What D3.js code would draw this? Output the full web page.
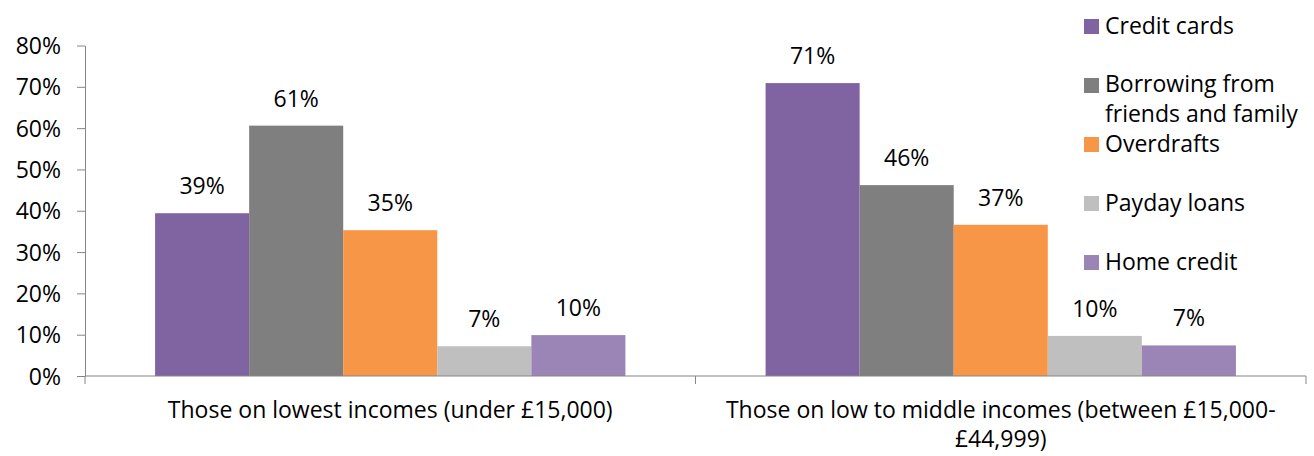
<!DOCTYPE html>
<html>
<head>
<meta charset="utf-8">
<script src="https://cdn.jsdelivr.net/npm/d3@7"></script>
<style>
  body { margin: 0; background: #fff; }
  text { font-family: "Open Sans", sans-serif; fill: #000; }
</style>
</head>
<body>
<script>
// chart data
var categories = ["Those on lowest incomes (under £15,000)",
                  "Those on low to middle incomes (between £15,000-£44,999)"];
var series = ["Credit cards", "Borrowing from friends and family", "Overdrafts", "Payday loans", "Home credit"];
var lowestIncomes = [39.4, 60.6, 35.3, 7.2, 9.9];
var lowMiddleIncomes = [70.9, 46.2, 36.6, 9.7, 7.4];
var yTicks = [0, 10, 20, 30, 40, 50, 60, 70, 80];
var colors = ["#8064A2", "#7F7F7F", "#F79646", "#BFBFBF", "#9B85B7"];

var width = 1314,
    height = 456,
    margin = {top: 45.5, right: 8, bottom: 80, left: 85};

var fontSize = 23;

var svg = d3.select("body").append("svg")
    .attr("width", width)
    .attr("height", height);

var x0 = d3.scaleBand()
    .domain(categories)
    .range([margin.left, width - margin.right])
    .paddingInner(0)
    .paddingOuter(0);

var x1 = d3.scaleBand()
    .domain(series)
    .range([0, x0.bandwidth()])
    .paddingInner(0)
    .paddingOuter(0.745);

var y = d3.scaleLinear()
    .domain([0, 80])
    .range([height - margin.bottom, margin.top]);

var color = d3.scaleOrdinal().domain(series).range(colors);

var rows = categories.map(function(c, i) {
  var vals = i === 0 ? lowestIncomes : lowMiddleIncomes;
  return {category: c, values: series.map(function(s, j) { return {series: s, value: vals[j]}; })};
});

// bars
var groups = svg.selectAll("g.group")
    .data(rows)
  .enter().append("g")
    .attr("class", "group")
    .attr("transform", function(d) { return "translate(" + x0(d.category) + ",0)"; });

groups.selectAll("rect")
    .data(function(d) { return d.values; })
  .enter().append("rect")
    .attr("x", function(d) { return x1(d.series); })
    .attr("width", x1.bandwidth())
    .attr("y", function(d) { return y(d.value); })
    .attr("height", function(d) { return y(0) - y(d.value); })
    .attr("fill", function(d) { return color(d.series); });

groups.selectAll("text.value")
    .data(function(d) { return d.values; })
  .enter().append("text")
    .attr("class", "value")
    .attr("x", function(d) { return x1(d.series) + x1.bandwidth() / 2; })
    .attr("y", function(d) { return y(d.value) - 19; })
    .attr("text-anchor", "middle")
    .style("font-size", fontSize + "px")
    .text(function(d) { return d3.format(".0f")(d.value) + "%"; });

// y axis
var yAxis = svg.append("g")
    .attr("transform", "translate(" + margin.left + ",0)")
    .call(d3.axisLeft(y)
      .tickValues(yTicks)
      .tickFormat(function(d) { return d + "%"; })
      .tickSize(8)
      .tickSizeOuter(0)
      .tickPadding(16));

yAxis.selectAll("text").style("font-size", fontSize + "px").attr("dy", "0.35em");
yAxis.selectAll("line, path").attr("stroke", "#868686");

// x axis line + boundary ticks
svg.append("line")
    .attr("x1", x0.range()[0])
    .attr("x2", x0.range()[1])
    .attr("y1", y(0))
    .attr("y2", y(0))
    .attr("stroke", "#868686");

var bounds = [x0.range()[0]].concat(categories.map(function(c) { return x0(c) + x0.bandwidth(); }));
svg.selectAll("line.xtick")
    .data(bounds)
  .enter().append("line")
    .attr("class", "xtick")
    .attr("x1", function(d) { return d; })
    .attr("x2", function(d) { return d; })
    .attr("y1", y(0))
    .attr("y2", y(0) + 8)
    .attr("stroke", "#868686");

// category labels, wrapped to the band width
var catLabels = svg.selectAll("text.cat")
    .data(categories)
  .enter().append("text")
    .attr("class", "cat")
    .attr("x", function(d) { return x0(d) + x0.bandwidth() / 2; })
    .attr("y", y(0) + 42)
    .attr("text-anchor", "middle")
    .style("font-size", fontSize + "px");

catLabels.each(function(d) {
  var text = d3.select(this),
      words = d.replace(/-/g, "- ").split(/\s+/),
      line = [],
      cx = text.attr("x"),
      tspan = text.append("tspan").attr("x", cx);
  words.forEach(function(w) {
    line.push(w);
    tspan.text(line.join(" ").replace(/- /g, "-"));
    if (tspan.node().getComputedTextLength() > x0.bandwidth() - 20 && line.length > 1) {
      line.pop();
      tspan.text(line.join(" ").replace(/- /g, "-"));
      line = [w];
      tspan = text.append("tspan").attr("x", cx).attr("dy", "29px").text(w);
    }
  });
});

// legend
var legend = svg.selectAll("g.legend")
    .data(series)
  .enter().append("g")
    .attr("class", "legend")
    .attr("transform", function(d, i) { return "translate(1084," + (26 + i * 59) + ")"; });

legend.append("rect")
    .attr("x", 0)
    .attr("y", -7)
    .attr("width", 15)
    .attr("height", 15)
    .attr("fill", function(d) { return color(d); });

legend.append("text")
    .attr("x", 21)
    .attr("y", 8)
    .style("font-size", fontSize + "px")
    .each(function(d) {
      var t = d3.select(this);
      if (d === "Borrowing from friends and family") {
        t.append("tspan").attr("x", 21).attr("dy", "-1px").text("Borrowing from");
        t.append("tspan").attr("x", 21).attr("dy", "30px").text("friends and family");
      } else {
        t.text(d);
      }
    });
</script>
</body>
</html>
